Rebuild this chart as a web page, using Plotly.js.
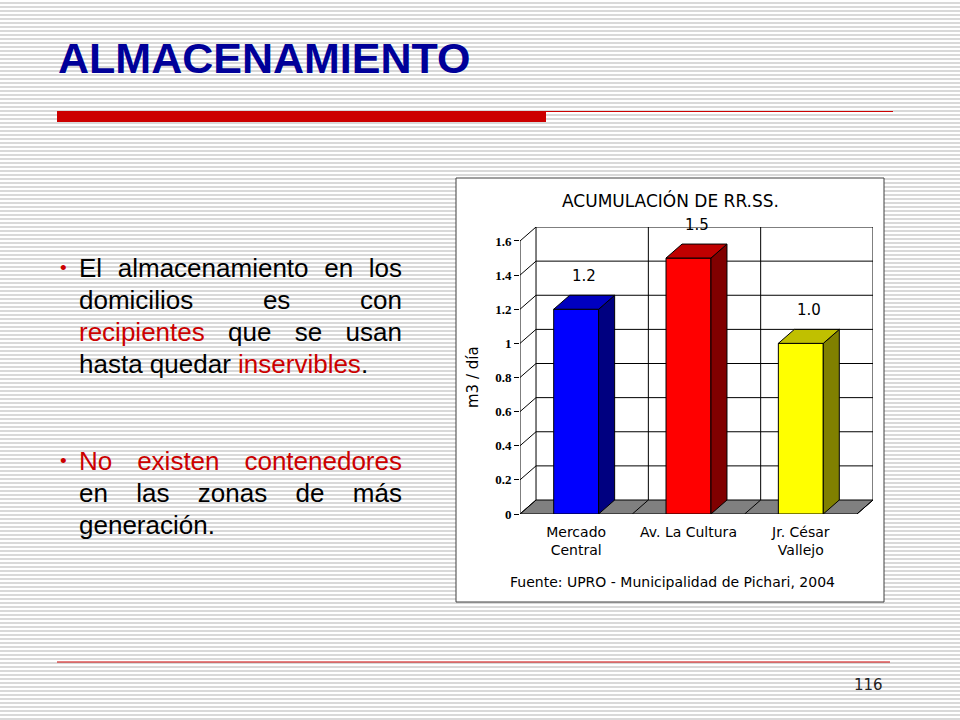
<!DOCTYPE html>
<html>
<head>
<meta charset="utf-8">
<script src="https://cdn.plot.ly/plotly-3.0.1.min.js"></script>
<style>
html, body { margin: 0; padding: 0; }
body {
    width: 960px; height: 720px; overflow: hidden; position: relative;
    background: repeating-linear-gradient(to bottom, #ffffff 0px, #ffffff 2.5px, #d9d9d9 2.5px, #d9d9d9 4px);
}
#grafico { position: absolute; left: 0; top: 0; width: 960px; height: 720px; }
.vinetas {
    position: absolute; left: 79px; top: 252px; width: 323px;
    font-family: "Liberation Sans", Arial, sans-serif; font-size: 26px; line-height: 32px;
    text-align: justify; color: #000;
}
.vinetas p { margin: 0 0 65px 0; position: relative; }
.vinetas p:before { content: "\2022"; color: #cc0000; position: absolute; left: -19px; font-size: 19px; }
.rojo { color: #cc0000; }
</style>
</head>
<body>
<div id="grafico"></div>
<div class="vinetas">
    <p><span>El</span> <span>almacenamiento</span> <span>en</span> <span>los</span> <span>domicilios</span> <span>es</span> <span>con</span> <span class="rojo">recipientes</span> <span>que</span> <span>se</span> <span>usan</span> <span>hasta</span> <span>quedar</span> <span class="rojo">inservibles</span><span>.</span></p>
    <p><span class="rojo">No</span> <span class="rojo">existen</span> <span class="rojo">contenedores</span> <span>en</span> <span>las</span> <span>zonas</span> <span>de</span> <span>más</span> <span>generación.</span></p>
</div>
<script>
// datos del grafico
var categorias = ['Mercado<br>Central', 'Av. La Cultura', 'Jr. César<br>Vallejo'];
var valores = [1.2, 1.5, 1.0];
var etiquetas = ['1.2', '1.5', '1.0'];
var marcasY = [0, 0.2, 0.4, 0.6, 0.8, 1, 1.2, 1.4, 1.6];

// colores de cada barra (frente, lado, techo)
var colorFrente = ['#0000ff', '#ff0000', '#ffff00'];
var colorLado = ['#000080', '#800000', '#808000'];
var colorTecho = ['#0000c0', '#c00000', '#c0c000'];

window.addEventListener("DOMContentLoaded", ()=>{
    // area del grafico en pixeles
    var L = 520, R = 873, T = 227, B = 514;
    var dx = 0.1426, dy = 0.082;   // profundidad del efecto 3D
    var ancho = 0.4;
    var yMax = marcasY[marcasY.length - 1];

    // pixeles de la pagina -> coordenadas paper
    function px(x) { return (x - L) / (R - L); }
    function py(y) { return (B - y) / (B - T); }

    var idx = categorias.map((c, i) => i);

    /*-----------BARRAS-----------*/
    var data = [{
        type: 'bar',
        x: idx,
        y: valores,
        width: ancho,
        marker: { color: colorFrente, line: { color: '#000', width: 1 } },
        hoverinfo: 'skip'
    }];

    // caras laterales y techos
    valores.forEach((v, i) => {
        var a = i - ancho / 2, b = i + ancho / 2;
        data.push({
            type: 'scatter', mode: 'lines', fill: 'toself', fillcolor: colorLado[i],
            x: [b, b + dx, b + dx, b, b],
            y: [0, dy, v + dy, v, 0],
            line: { color: '#000', width: 1 }, hoverinfo: 'skip', showlegend: false
        });
        data.push({
            type: 'scatter', mode: 'lines', fill: 'toself', fillcolor: colorTecho[i],
            x: [a, a + dx, b + dx, b, a],
            y: [v, v + dy, v + dy, v, v],
            line: { color: '#000', width: 1 }, hoverinfo: 'skip', showlegend: false
        });
    });

    /*-----------FORMAS-----------*/
    var shapes = [];
    // marco blanco del grafico
    shapes.push({ type: 'rect', xref: 'paper', yref: 'paper', layer: 'below',
        x0: px(456), x1: px(884), y0: py(178), y1: py(602),
        fillcolor: '#fff', line: { color: '#404040', width: 1 } });
    // piso gris
    var x0 = -0.5, x1 = categorias.length - 0.5;
    shapes.push({ type: 'path', xref: 'x', yref: 'y', layer: 'below',
        path: 'M' + x0 + ',0 L' + (x0 + dx) + ',' + dy + ' L' + (x1 + dx) + ',' + dy + ' L' + x1 + ',0 Z',
        fillcolor: '#808080', line: { color: '#000', width: 1 } });
    // rejilla: pared de fondo y pared izquierda
    var linea = { color: '#000', width: 1 };
    marcasY.forEach(t => {
        if (t > 0) {
            shapes.push({ type: 'line', xref: 'x', yref: 'y', layer: 'below',
                x0: x0 + dx, x1: x1 + dx, y0: t + dy, y1: t + dy, line: linea });
        }
        shapes.push({ type: 'line', xref: 'x', yref: 'y', layer: 'below',
            x0: x0, x1: x0 + dx, y0: t, y1: t + dy, line: linea });
    });
    for (var k = 0; k <= categorias.length; k++) {
        var xb = x0 + k;
        shapes.push({ type: 'line', xref: 'x', yref: 'y', layer: 'below',
            x0: xb + dx, x1: xb + dx, y0: dy, y1: yMax + dy, line: linea });
        if (k > 0) {
            shapes.push({ type: 'line', xref: 'x', yref: 'y', layer: 'below',
                x0: xb, x1: xb + dx, y0: 0, y1: dy, line: linea });
        }
        shapes.push({ type: 'line', xref: 'x', yref: 'y', ysizemode: 'pixel', yanchor: 0,
            x0: xb, x1: xb, y0: 0, y1: -5, line: linea });
    }
    // eje vertical frontal
    shapes.push({ type: 'line', xref: 'x', yref: 'y', x0: x0, x1: x0, y0: 0, y1: yMax, line: linea });

    // lineas rojas de la diapositiva
    shapes.push({ type: 'rect', xref: 'paper', yref: 'paper', layer: 'below',
        x0: px(57), x1: px(546), y0: py(111), y1: py(122), fillcolor: '#cc0000', line: { width: 0 } });
    shapes.push({ type: 'line', xref: 'paper', yref: 'paper', layer: 'below',
        x0: px(546), x1: px(893), y0: py(111.5), y1: py(111.5), line: { color: '#cc0000', width: 1 } });
    shapes.push({ type: 'line', xref: 'paper', yref: 'paper', layer: 'below',
        x0: px(57), x1: px(890), y0: py(662), y1: py(662), line: { color: '#cc0000', width: 1 } });

    /*-----------TEXTOS-----------*/
    var annotations = [
        { text: 'ACUMULACIÓN DE RR.SS.', x: px(670), y: py(200),
          font: { family: 'DejaVu Sans', size: 17, color: '#000' } },
        { text: 'm3 / día', x: px(473), y: py(377), textangle: -90,
          font: { family: 'DejaVu Sans', size: 15, color: '#000' } },
        { text: 'Fuente: UPRO - Municipalidad de Pichari, 2004', x: px(672), y: py(582),
          font: { family: 'DejaVu Sans', size: 14, color: '#000' } },
        { text: '116', x: px(868), y: py(685),
          font: { family: 'DejaVu Sans', size: 15, color: '#222' } }
    ].map(a => Object.assign({ xref: 'paper', yref: 'paper', showarrow: false,
                               xanchor: 'center', yanchor: 'middle' }, a));

    // valores encima de cada barra
    valores.forEach((v, i) => {
        annotations.push({ xref: 'x', yref: 'y', x: i + dx / 2, y: v + dy, text: etiquetas[i],
            showarrow: false, xanchor: 'center', yanchor: 'middle', yshift: 19,
            font: { family: 'DejaVu Sans', size: 15, color: '#000' } });
    });

    var layout = {
        width: 960, height: 720,
        margin: { l: L, r: 960 - R, t: T, b: 720 - B, pad: 0 },
        paper_bgcolor: 'rgba(0,0,0,0)',
        plot_bgcolor: 'rgba(0,0,0,0)',
        showlegend: false,
        title: {
            text: 'ALMACENAMIENTO',
            x: 58 / 960, xanchor: 'left', xref: 'container',
            y: 1 - 58 / 720, yanchor: 'middle', yref: 'container',
            font: { family: 'Liberation Sans', size: 43, weight: 'bold', color: '#000099' }
        },
        xaxis: {
            range: [x0, x1 + dx], fixedrange: true,
            tickvals: idx, ticktext: categorias, ticks: '', ticklabelstandoff: 8,
            showgrid: false, zeroline: false, showline: false,
            tickfont: { family: 'DejaVu Sans', size: 14, color: '#000' }
        },
        yaxis: {
            range: [0, yMax + dy], fixedrange: true,
            tickvals: marcasY, ticks: 'outside', ticklen: 5, tickcolor: '#000',
            showgrid: false, zeroline: false, showline: false,
            tickfont: { family: 'Liberation Serif', size: 13, weight: 'bold', color: '#000' }
        },
        shapes: shapes,
        annotations: annotations
    };

    Plotly.newPlot('grafico', data, layout, { staticPlot: true });
});
</script>
</body>
</html>
